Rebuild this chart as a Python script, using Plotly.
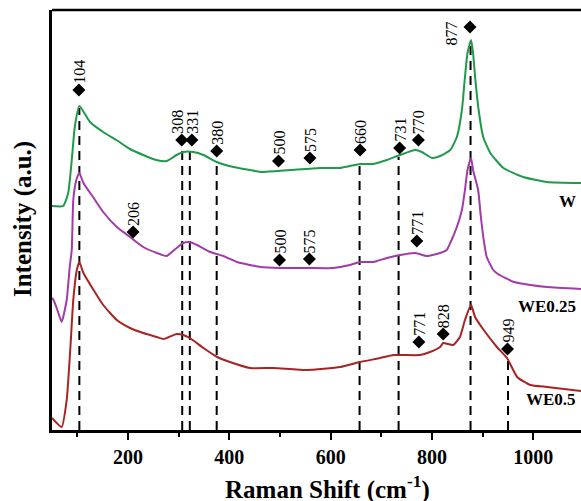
import plotly.graph_objects as go

# ---------------- data (Raman shift in cm-1, intensity in a.u.) ----------------
w_x = [50, 72, 82, 89, 95, 104, 125, 151, 177, 204, 230, 256, 276, 296, 309, 329, 349, 375, 408,
       441, 461, 520, 579, 618, 638, 658, 684, 711, 737, 767, 780, 800, 816, 836, 849, 859, 865,
       870, 877, 881, 885, 892, 901, 915, 941, 980, 1027, 1094]
w_y = [224, 224, 237, 270, 303, 324, 308, 298, 290, 281, 275, 270, 269, 275, 278, 278, 275, 268, 263,
       260, 258, 260, 262, 262, 264, 266, 266, 270, 275, 280, 278, 272, 274, 280, 293, 320, 353,
       377, 390, 377, 353, 320, 293, 277, 262, 253, 248, 247]

we025_x = [50, 53, 60, 69, 79, 85, 89, 92, 98, 104, 112, 131, 151, 178, 204, 230, 257, 276, 296, 309,
           322, 336, 362, 388, 415, 441, 461, 500, 553, 605, 638, 658, 684, 711, 737, 767, 790, 816,
           829, 836, 849, 859, 865, 870, 877, 881, 891, 896, 902, 908, 921, 930, 962, 994, 1027, 1094]
we025_y = [132, 130, 121, 108, 130, 163, 180, 230, 250, 257, 247, 233, 218, 203, 193, 183, 177, 174,
           182, 187, 188, 185, 178, 174, 168, 165, 163, 162, 162, 162, 165, 168, 168, 172, 175, 177,
           174, 177, 180, 187, 203, 220, 240, 260, 272, 260, 240, 215, 190, 173, 160, 156, 148, 145,
           143, 141]

we05_x = [50, 69, 79, 86, 92, 99, 104, 112, 132, 151, 178, 204, 230, 257, 270, 296, 309, 322, 349, 376,
          401, 441, 487, 553, 619, 658, 698, 724, 776, 796, 816, 822, 842, 855, 865, 877, 885, 902,
          928, 948, 968, 994, 1027, 1094]
we05_y = [12, 3, 30, 80, 130, 160, 168, 157, 140, 125, 110, 102, 97, 93, 91, 96, 95, 92, 82, 73,
          68, 62, 62, 60, 63, 68, 72, 75, 75, 78, 83, 87, 85, 93, 110, 125, 113, 100,
          83, 72, 53, 45, 43, 39]

# dashed guide lines
vline_x = [104, 307, 322, 375, 657, 734, 876, 950]
vline_top = [322, 279, 279, 268, 267, 273, 387, 70]

# peak markers and labels
peak_x = [103, 306, 326, 375, 497, 559, 658, 736, 773, 875,
          210, 499, 558, 770,
          774, 822, 949]
peak_y = [340, 290, 290, 279, 269, 272, 280, 282, 290, 403,
          198, 170, 171, 189,
          88, 96, 81]
peak_label = ["104", "308", "331", "380", "500", "575", "660", "731", "770", "877",
              "206", "500", "575", "771",
              "771", "828", "949"]

series_names = ["W", "WE0.25", "WE0.5"]
series_label_y = [229, 124, 31]
colors = ["#1f9a4a", "#a23aa8", "#a82424"]

x_ticks = [200, 400, 600, 800, 1000]

FONT = "Liberation Serif"

fig = go.Figure()

for vx, vt in zip(vline_x, vline_top):
    fig.add_trace(go.Scatter(x=[vx, vx], y=[0, vt], mode="lines",
                             line=dict(color="black", width=2, dash="9px,6px"),
                             hoverinfo="skip", showlegend=False))

for xs, ys, c in zip([w_x, we025_x, we05_x], [w_y, we025_y, we05_y], colors):
    fig.add_trace(go.Scatter(x=xs, y=ys, mode="lines",
                             line=dict(color=c, width=2, shape="spline", smoothing=0.5),
                             showlegend=False))

fig.add_trace(go.Scatter(x=peak_x, y=peak_y, mode="markers",
                         marker=dict(symbol="diamond", size=10, color="black"),
                         showlegend=False))

annotations = []
for px_, py_, lab in zip(peak_x, peak_y, peak_label):
    a = dict(x=px_, y=py_, text=lab, showarrow=False, textangle=-90,
             xanchor="center", yanchor="bottom", yshift=4,
             font=dict(family=FONT, size=16, color="black"))
    if lab == "877":
        a.update(xanchor="right", yanchor="middle", xshift=-9, yshift=-7)
    if lab == "308":
        a.update(xshift=-5)
    annotations.append(a)

for name, ly in zip(series_names, series_label_y):
    annotations.append(dict(x=0.995, xref="paper", y=ly, text="<b>%s</b>" % name,
                            showarrow=False, xanchor="right", yanchor="middle",
                            font=dict(family=FONT, size=17, color="black")))

annotations.append(dict(x=0.521, y=-0.138, xref="paper", yref="paper",
                        text="<b>Raman Shift (cm<sup>-1</sup>)</b>", showarrow=False,
                        xanchor="center", yanchor="middle",
                        font=dict(family=FONT, size=25, color="black")))
annotations.append(dict(x=-0.055, y=0.502, xref="paper", yref="paper",
                        text="<b>Intensity (a.u.)</b>", showarrow=False, textangle=-90,
                        xanchor="center", yanchor="middle",
                        font=dict(family=FONT, size=25, color="black")))

fig.update_layout(
    width=581, height=501,
    margin=dict(l=52, r=0, t=10, b=71),
    paper_bgcolor="white", plot_bgcolor="white",
    annotations=annotations,
    shapes=[dict(type="line", xref="paper", yref="paper", x0=0, x1=1, y0=1, y1=1,
                 line=dict(color="black", width=2.5))],
    xaxis=dict(range=[50, 1094], showgrid=False, zeroline=False,
               showline=True, linecolor="black", linewidth=2.5,
               ticks="outside", ticklen=7, tickwidth=2, tickcolor="black",
               tickvals=x_ticks, ticktext=[str(v) for v in x_ticks],
               tickfont=dict(family=FONT, size=20, color="black", weight="bold"),
               minor=dict(tickvals=[100, 300, 500, 700, 900], ticks="outside",
                          ticklen=4, tickwidth=2, tickcolor="black")),
    yaxis=dict(range=[0, 420], showgrid=False, zeroline=False,
               showline=True, linecolor="black", linewidth=2.5,
               showticklabels=False, ticks=""),
)

fig.write_html("out.html")
